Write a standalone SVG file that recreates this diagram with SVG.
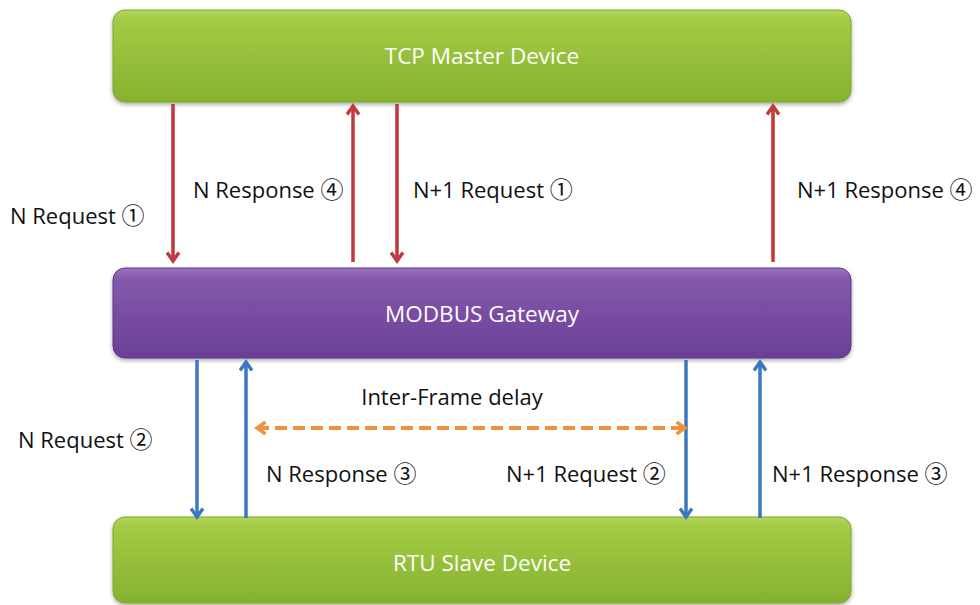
<svg xmlns="http://www.w3.org/2000/svg" width="980" height="605" viewBox="0 0 980 605">
<defs>
<linearGradient id="gGreen" x1="0" y1="0" x2="0" y2="1">
<stop offset="0" stop-color="#b2d65a"/>
<stop offset="0.12" stop-color="#a3cb45"/>
<stop offset="1" stop-color="#86b22e"/>
</linearGradient>
<linearGradient id="gPurple" x1="0" y1="0" x2="0" y2="1">
<stop offset="0" stop-color="#9b74c0"/>
<stop offset="0.12" stop-color="#8459ab"/>
<stop offset="1" stop-color="#6a3f97"/>
</linearGradient>
<filter id="sh" x="-5%" y="-10%" width="110%" height="130%">
<feGaussianBlur in="SourceAlpha" stdDeviation="2"/>
<feOffset dy="2"/>
<feComponentTransfer><feFuncA type="linear" slope="0.35"/></feComponentTransfer>
<feMerge><feMergeNode/><feMergeNode in="SourceGraphic"/></feMerge>
</filter>
<marker id="aRed" markerWidth="14" markerHeight="14" refX="9" refY="7" orient="auto" markerUnits="userSpaceOnUse" viewBox="0 0 14 14">
<path d="M1.5,1 L10,7 L1.5,13" fill="none" stroke="#c0393b" stroke-width="3.5"/>
</marker>
<marker id="aBlue" markerWidth="14" markerHeight="14" refX="9" refY="7" orient="auto" markerUnits="userSpaceOnUse" viewBox="0 0 14 14">
<path d="M1.5,1 L10,7 L1.5,13" fill="none" stroke="#3b78bd" stroke-width="3.5"/>
</marker>
<marker id="aOr" markerWidth="14" markerHeight="14" refX="10" refY="7" orient="auto-start-reverse" markerUnits="userSpaceOnUse" viewBox="0 0 14 14">
<path d="M1.5,1 L10,7 L1.5,13" fill="none" stroke="#f0913d" stroke-width="3.5"/>
</marker>
</defs>
<style>
.box-g{fill:url(#gGreen);stroke:#7ea62c;stroke-width:1}
.box-p{fill:url(#gPurple);stroke:#5e3688;stroke-width:1}
.title{font-family:"Open Sans","Noto Sans",sans-serif;font-size:22.5px;fill:#ffffff;text-anchor:middle}
.lbl{font-family:"Open Sans","Noto Sans",sans-serif;font-size:22px;fill:#111111}
.num{font-family:"Noto Sans CJK JP","Noto Serif",serif;font-size:23px}
.red{stroke:#c0393b;stroke-width:3.5;fill:none;marker-end:url(#aRed)}
.blue{stroke:#3b78bd;stroke-width:3.5;fill:none;marker-end:url(#aBlue)}
.orange{stroke:#f0913d;stroke-width:4;fill:none;stroke-dasharray:12 6;marker-start:url(#aOr);marker-end:url(#aOr)}
</style>
<rect width="980" height="605" fill="#ffffff"/>
<g id="tcp-master">
<rect class="box-g" x="113" y="10" width="738" height="92" rx="12" filter="url(#sh)"/>
<text class="title" x="482" y="64">TCP Master Device</text>
</g>
<g id="modbus-gateway">
<rect class="box-p" x="113" y="268" width="738" height="90" rx="12" filter="url(#sh)"/>
<text class="title" x="482" y="322">MODBUS Gateway</text>
</g>
<g id="rtu-slave">
<rect class="box-g" x="113" y="517" width="738" height="86" rx="12" filter="url(#sh)"/>
<text class="title" x="482" y="571">RTU Slave Device</text>
</g>
<g id="connectors">
<line class="red" x1="173" y1="104" x2="173" y2="260"/>
<line class="red" x1="353" y1="262" x2="353" y2="107"/>
<line class="red" x1="397" y1="104" x2="397" y2="260"/>
<line class="red" x1="773" y1="262" x2="773" y2="107"/>
<line class="blue" x1="197" y1="360" x2="197" y2="516"/>
<line class="blue" x1="246" y1="518" x2="246" y2="363"/>
<line class="blue" x1="686" y1="360" x2="686" y2="516"/>
<line class="blue" x1="760" y1="518" x2="760" y2="363"/>
<line class="orange" x1="257" y1="428" x2="685" y2="428"/>
</g>
<g id="labels">
<text class="lbl" x="10" y="224">N Request <tspan class="num">①</tspan></text>
<text class="lbl" x="193" y="198">N Response <tspan class="num">④</tspan></text>
<text class="lbl" x="413" y="198">N+1 Request <tspan class="num">①</tspan></text>
<text class="lbl" x="797" y="198">N+1 Response <tspan class="num">④</tspan></text>
<text class="lbl" x="452" y="405" text-anchor="middle">Inter-Frame delay</text>
<text class="lbl" x="18" y="448">N Request <tspan class="num">②</tspan></text>
<text class="lbl" x="266" y="482">N Response <tspan class="num">③</tspan></text>
<text class="lbl" x="506" y="482">N+1 Request <tspan class="num">②</tspan></text>
<text class="lbl" x="772" y="482">N+1 Response <tspan class="num">③</tspan></text>
</g>
</svg>
